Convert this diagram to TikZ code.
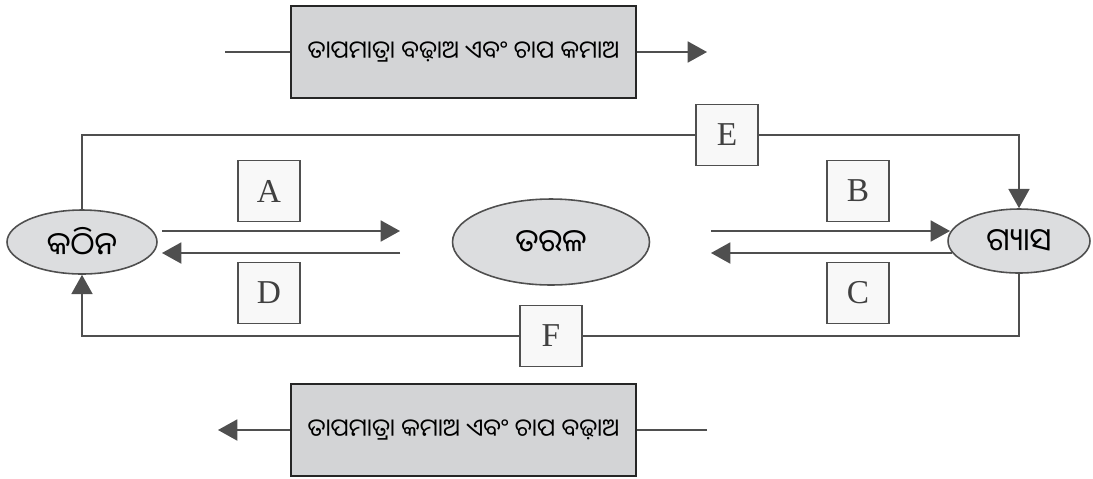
\documentclass[tikz,border=0pt]{standalone}
\usepackage{fontspec}
\newfontfamily\oriya[Script=Oriya]{Noto Sans Oriya UI}
\newfontfamily\lblfont{Liberation Serif}
\usetikzlibrary{shapes.geometric,arrows.meta}

\definecolor{boxgray}{HTML}{D3D4D6}
\definecolor{stategray}{HTML}{DCDDDF}
\definecolor{linegray}{HTML}{4F4F4F}
\definecolor{lblfill}{HTML}{F8F8F8}

\tikzset{
  procbox/.style={draw=black!85, line width=1.3pt, fill=boxgray,
    minimum width=6.9cm, minimum height=1.84cm, font=\oriya\fontsize{14}{17}\selectfont},
  state/.style={ellipse, draw=linegray, line width=0.9pt, fill=stategray,
    inner sep=0pt, font=\oriya\fontsize{18}{20}\selectfont},
  lbl/.style={draw=linegray, line width=0.9pt, fill=lblfill,
    minimum width=1.24cm, minimum height=1.22cm, text=black!75,
    font=\lblfont\fontsize{19}{21}\selectfont},
  flow/.style={draw=linegray, line width=0.9pt},
  tip/.style={-{Triangle[length=11pt,width=12pt]}}
}

\begin{document}
\begin{tikzpicture}[x=0.02cm, y=-0.02cm]

        \useasboundingbox (0,0) rectangle (1093,478);

        % States
        \node[state, minimum width=3cm, minimum height=1.28cm] (solid) at (82,242) {କଠିନ};
        \node[state, minimum width=3.94cm, minimum height=1.72cm] (liquid) at (551,242) {ତରଳ};
        \node[state, minimum width=2.84cm, minimum height=1.28cm] (gas) at (1019,241) {ଗ୍ୟାସ};

        % Conditions
        \node[procbox] (heat) at (463.5,52) {ତାପମାତ୍ରା ବଢ଼ାଅ ଏବଂ ଚାପ କମାଅ};
        \node[procbox] (cool) at (463.5,430) {ତାପମାତ୍ରା କମାଅ ଏବଂ ଚାପ ବଢ଼ାଅ};

        \coordinate (heatin) at (225,52);
        \coordinate (heatout) at (707,52);
        \coordinate (coolin) at (707,430);
        \coordinate (coolout) at (218,430);

        \draw[flow] (heatin) -- (heat);
        \draw[flow, tip] (heat) -- (heatout);
        \draw[flow] (coolin) -- (cool);
        \draw[flow, tip] (cool) -- (coolout);

        % Arrows between states
        \coordinate (a1) at (162,231);
        \coordinate (a2) at (400,231);
        \coordinate (d1) at (400,253);
        \coordinate (d2) at (162,253);
        \coordinate (b1) at (711,231);
        \coordinate (b2) at (950,231);
        \coordinate (c1) at (952,253);
        \coordinate (c2) at (711,253);

        \draw[flow, tip] (a1) -- (a2);
        \draw[flow, tip] (d1) -- (d2);
        \draw[flow, tip] (b1) -- (b2);
        \draw[flow, tip] (c1) -- (c2);

        % Long loops
        \node[lbl] (E) at (727,135) {E};
        \node[lbl] (F) at (551,336) {F};

        \draw[flow] (solid.north) |- (E.west);
        \draw[flow, tip] (E.east) -| (gas.north);
        \draw[flow] (gas.south) |- (F.east);
        \draw[flow, tip] (F.west) -| (solid.south);

        % Labels
        \node[lbl] (A) at (269,191) {A};
        \node[lbl] (D) at (269,293) {D};
        \node[lbl] (B) at (858,191) {B};
        \node[lbl] (C) at (858,293) {C};

\end{tikzpicture}
\end{document}
